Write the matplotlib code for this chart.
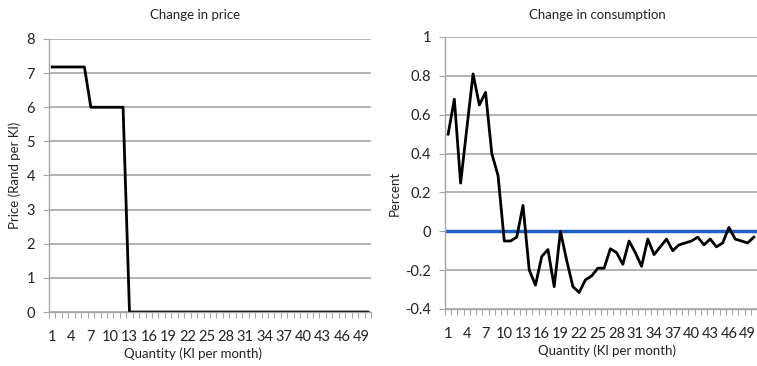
import matplotlib
matplotlib.use("Agg")
import matplotlib.pyplot as plt
from matplotlib.ticker import FixedLocator, MultipleLocator

plt.rcParams['font.family'] = ['Lato', 'DejaVu Sans']

quantity = list(range(1, 51))
price = [7.18] * 6 + [6.0] * 6 + [0.0] * 38
consumption = [0.50, 0.68, 0.248, 0.53, 0.81, 0.65, 0.715, 0.40, 0.287, -0.05,
               -0.05, -0.03, 0.133, -0.20, -0.277, -0.13, -0.094, -0.285, 0.0, -0.15,
               -0.285, -0.315, -0.25, -0.23, -0.19, -0.19, -0.09, -0.11, -0.17, -0.05,
               -0.11, -0.18, -0.04, -0.12, -0.08, -0.04, -0.10, -0.07, -0.06, -0.05,
               -0.03, -0.07, -0.04, -0.08, -0.06, 0.02, -0.04, -0.05, -0.06, -0.03]
xtick_labels = [str(v) for v in range(1, 51, 3)]

W, H = 757, 366
fig = plt.figure(figsize=(W / 100, H / 100), dpi=100)

grid_c = '#a6a6a6'
spine_c = '#a6a6a6'
fs_tick = 10.5
tick_c = '#222222'


def style(ax, ylim, ystep):
    ax.set_xlim(0.5, 50.5)
    ax.set_ylim(*ylim)
    ax.yaxis.set_major_locator(MultipleLocator(ystep))
    ax.xaxis.set_major_locator(FixedLocator(list(range(1, 51, 3))))
    ax.set_xticklabels(xtick_labels)
    ax.xaxis.set_minor_locator(FixedLocator([i + 0.5 for i in range(0, 51)]))
    ax.tick_params(axis='x', which='major', length=0, labelsize=fs_tick, pad=13,
                   labelcolor=tick_c)
    ax.tick_params(axis='x', which='minor', length=4, color=spine_c, width=0.8, direction='out')
    ax.tick_params(axis='y', which='major', length=4, color=spine_c, labelsize=fs_tick, pad=6,
                   labelcolor=tick_c)
    ax.grid(axis='y', color=grid_c, linewidth=1.2)
    ax.set_axisbelow(True)
    for s in ['top', 'right']:
        ax.spines[s].set_visible(False)
    for s in ['left', 'bottom']:
        ax.spines[s].set_color(spine_c)
        ax.spines[s].set_linewidth(1.0)


ax1 = fig.add_axes([49 / W, 1 - 312 / H, (371 - 49) / W, (312 - 39) / H])
ax1.plot(quantity, price, color='black', linewidth=2)
style(ax1, (0, 8), 1)

ax2 = fig.add_axes([445 / W, 1 - 309 / H, (757 - 445) / W, (309 - 37) / H])
ax2.axhline(0, color='#1f5fc4', linewidth=2.5, zorder=2)
ax2.plot(quantity, consumption, color='black', linewidth=2, zorder=3)
style(ax2, (-0.4, 1.0), 0.2)
ax2.set_yticks([-0.4, -0.2, 0, 0.2, 0.4, 0.6, 0.8, 1.0])
ax2.set_yticklabels(['-0.4', '-0.2', '0', '0.2', '0.4', '0.6', '0.8', '1'])

fs_lab = 9.5
fig.text(195 / W, 1 - 15 / H, 'Change in price', ha='center', va='center', fontsize=fs_lab,
         color=tick_c)
fig.text(597 / W, 1 - 15 / H, 'Change in consumption', ha='center', va='center',
         fontsize=fs_lab, color=tick_c)
fig.text(15 / W, 1 - 175 / H, 'Price (Rand per Kl)', ha='center', va='center',
         rotation=90, fontsize=fs_lab, color=tick_c)
fig.text(395 / W, 1 - 193 / H, 'Percent', ha='center', va='center', rotation=90,
         fontsize=fs_lab, color=tick_c)
fig.text(193 / W, 1 - 354 / H, 'Quantity (Kl per month)', ha='center', va='center',
         fontsize=fs_lab, color=tick_c)
fig.text(607 / W, 1 - 351 / H, 'Quantity (Kl per month)', ha='center', va='center',
         fontsize=fs_lab, color=tick_c)

fig.savefig('out.png', dpi=100)
